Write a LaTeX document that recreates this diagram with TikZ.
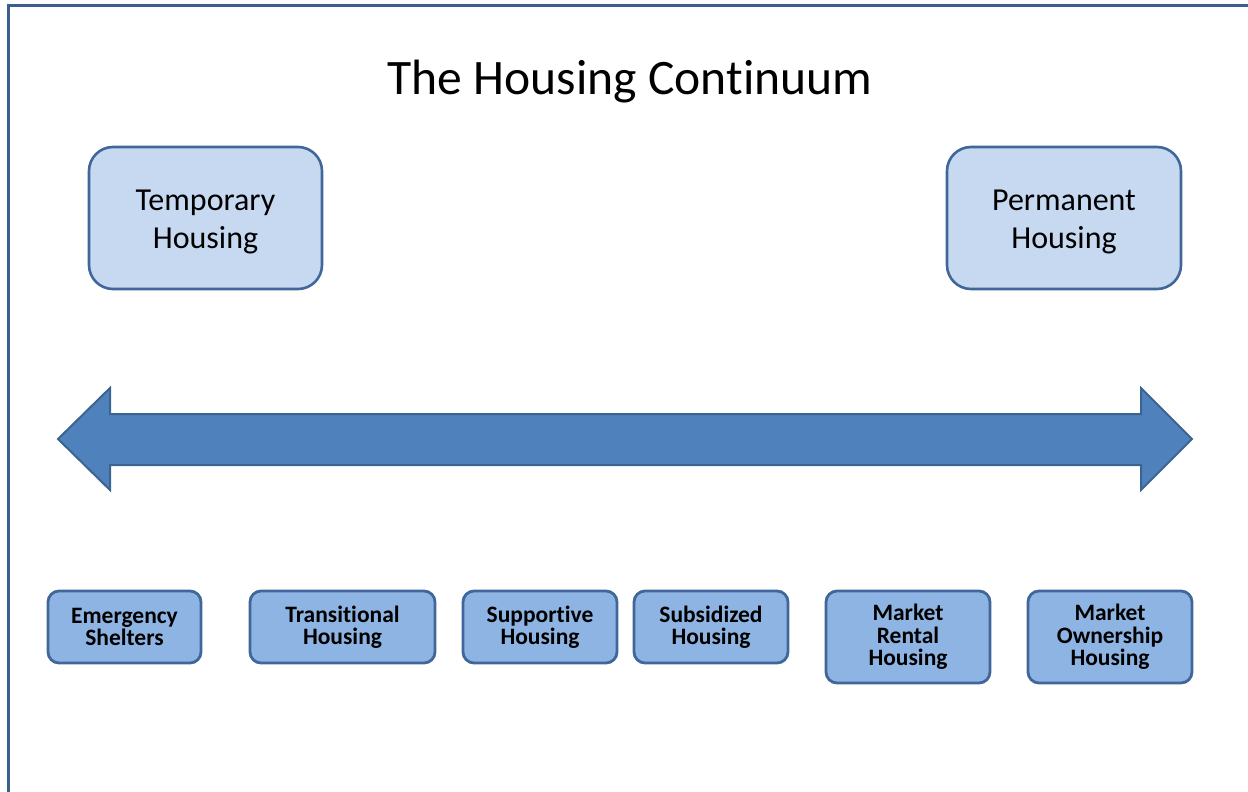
\documentclass[tikz,border=0pt]{standalone}
\usepackage{fontspec}
\setmainfont[Ligatures={NoCommon,NoContextual}]{Carlito}
\newcommand{\nti}{t\kern0pt i}
\definecolor{frameblue}{HTML}{3A5F8E}
\definecolor{edgeblue}{HTML}{41669A}
\definecolor{lightfill}{HTML}{C6D9F1}
\definecolor{midfill}{HTML}{8EB4E3}
\definecolor{arrowfill}{HTML}{4F81BD}
\definecolor{arrowedge}{HTML}{3C6490}
\tikzset{
  bigbox/.style={draw=edgeblue, fill=lightfill, line width=2.6pt, rounded corners=24pt,
    inner sep=0pt},
  bigtext/.style={inner sep=0pt, align=center, font=\fontsize{32}{38}\selectfont},
  smallbox/.style={draw=edgeblue, fill=midfill, line width=2.8pt, rounded corners=11pt,
    inner sep=0pt, align=center, font=\bfseries\fontsize{23.5}{22.5}\selectfont},
  titletext/.style={font=\fontsize{49.6}{60}\selectfont, inner sep=0pt, anchor=base}
}
\begin{document}
\begin{tikzpicture}[x=1pt,y=-1pt]
\useasboundingbox (0,0) rectangle (1248,792);
% frame
\draw[frameblue, line width=3pt] (8.5,800) -- (8.5,5.5) -- (1256,5.5);
% title
\node[titletext] (title) at (630,95) {The Housing Con\nti nuum};
% top boxes
\node[bigbox, minimum width=233pt, minimum height=142pt] (temp) at (205.5,218) {};
\node[bigtext] (temptext) at ([yshift=-4pt]temp.center) {Temporary\\Housing};
\node[bigbox, minimum width=234pt, minimum height=142pt] (perm) at (1064,218) {};
\node[bigtext] (permtext) at ([yshift=-4pt]perm.center) {Permanent\\Housing};
% double arrow
\draw[fill=arrowfill, draw=arrowedge, line width=2pt, line join=miter]
  (58,439) -- (110,388) -- (110,414) -- (1141,414) -- (1141,388) -- (1192,439)
  -- (1141,490) -- (1141,465) -- (110,465) -- (110,490) -- cycle;
% bottom boxes
\node[smallbox, minimum width=153pt, minimum height=72pt] (emer) at (124.5,627) {Emergency\\Shelters};
\node[smallbox, minimum width=185pt, minimum height=72pt] (trans) at (342.5,627) {Transi\nti onal\\Housing};
\node[smallbox, minimum width=154pt, minimum height=72pt] (supp) at (540,627) {Suppor\nti ve\\Housing};
\node[smallbox, minimum width=154pt, minimum height=72pt] (subs) at (711,627) {Subsidized\\Housing};
\node[smallbox, minimum width=164pt, minimum height=92pt] (rent) at (908,637) {Market\\Rental\\Housing};
\node[smallbox, minimum width=164pt, minimum height=92pt] (own) at (1110,637) {Market\\Ownership\\Housing};
\end{tikzpicture}
\end{document}
